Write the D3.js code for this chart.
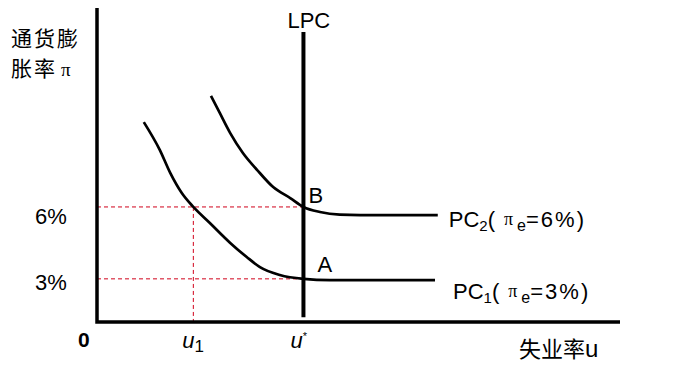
<!DOCTYPE html>
<html>
<head>
<meta charset="utf-8">
<script src="https://cdn.jsdelivr.net/npm/d3@7"></script>
<style>
  html, body { margin: 0; padding: 0; background: #fff; }
  svg { display: block; }
  text { font-family: "Liberation Sans", Arial, sans-serif; fill: #000; }
  .cjk { font-family: "Noto Sans CJK SC", sans-serif; }
</style>
</head>
<body>
<svg id="chart" width="676" height="371"></svg>
<script>
// 数据（横轴：失业率 u，纵轴：通货膨胀率 π，单位 %）
const yTickValues = [6, 3];
const yTickLabels = ['6%', '3%'];
const uNatural = 6;   // u*
const uLow = 4;       // u1
const lpcRange = [1.4, 13.3];

// PC1（预期通胀 3%）
const pc1U  = [3.10, 3.39, 3.58, 3.79, 4.00, 4.30, 4.67, 4.97, 5.21, 5.57, 6.00, 6.48, 8.39];
const pc1Pi = [9.54, 8.38, 7.42, 6.58, 6.00, 5.33, 4.50, 3.91, 3.49, 3.16, 3.00, 2.95, 2.95];
// PC2（预期通胀 6%）
const pc2U  = [4.32, 4.48, 4.67, 4.90, 5.16, 5.45, 5.76, 6.00, 6.30, 6.66, 7.03, 8.44];
const pc2Pi = [10.63, 9.92, 9.08, 8.25, 7.54, 6.83, 6.37, 6.00, 5.79, 5.68, 5.66, 5.66];

const svg = d3.select('#chart');

const x = d3.scaleLinear([2.25, 11.75], [97, 620]);
const y = d3.scaleLinear([1.2, 14.3], [322, 8]);

const line = d3.line()
  .x(d => x(d[0]))
  .y(d => y(d[1]))
  .curve(d3.curveMonotoneX);

// 虚线参考线
const guides = svg.append('g')
  .attr('stroke', '#d0021b')
  .attr('stroke-width', 1)
  .attr('stroke-dasharray', '4,3')
  .attr('fill', 'none');

yTickValues.forEach(v => {
  guides.append('line')
    .attr('x1', x.range()[0]).attr('x2', x(uNatural))
    .attr('y1', y(v)).attr('y2', y(v));
});
guides.append('line')
  .attr('x1', x(uLow)).attr('x2', x(uLow))
  .attr('y1', y(6)).attr('y2', y.range()[0]);

// 菲利普斯曲线
[[pc1U, pc1Pi], [pc2U, pc2Pi]].forEach(([us, ps]) => {
  svg.append('path')
    .datum(us.map((u, i) => [u, ps[i]]))
    .attr('d', line)
    .attr('fill', 'none')
    .attr('stroke', '#000')
    .attr('stroke-width', 2.7)
    .attr('stroke-linejoin', 'round');
});

// LPC 长期菲利普斯曲线
svg.append('line')
  .attr('x1', x(uNatural)).attr('x2', x(uNatural))
  .attr('y1', y(lpcRange[1])).attr('y2', y(lpcRange[0]))
  .attr('stroke', '#000')
  .attr('stroke-width', 4);

// 坐标轴
svg.append('path')
  .attr('d', `M${x.range()[0]},${y.range()[1]}V${y.range()[0]}H${x.range()[1]}`)
  .attr('fill', 'none')
  .attr('stroke', '#000')
  .attr('stroke-width', 3.5);

// 纵轴刻度文字
const tickDy = { 6: 17, 3: 11 };
svg.selectAll('.ytick')
  .data(yTickValues)
  .join('text')
  .attr('class', 'ytick')
  .attr('x', 35)
  .attr('y', d => y(d) + tickDy[d])
  .attr('font-size', 22)
  .text((d, i) => yTickLabels[i]);

svg.append('text')
  .attr('x', 78).attr('y', 347)
  .attr('font-size', 21)
  .attr('font-weight', 'bold')
  .text('0');

// 横轴刻度 u1, u*
const u1 = svg.append('text')
  .attr('x', x(uLow) - 11).attr('y', 348)
  .attr('font-family', '"DejaVu Serif", serif')
  .attr('font-style', 'italic')
  .attr('font-size', 22)
  .text('u');
u1.append('tspan').attr('dy', 4).attr('font-size', 17).attr('font-style', 'normal').text('1');

const us = svg.append('text')
  .attr('x', x(uNatural) - 13).attr('y', 348)
  .attr('font-family', '"DejaVu Serif", serif')
  .attr('font-style', 'italic')
  .attr('font-size', 22)
  .text('u');
us.append('tspan').attr('dy', -8).attr('font-size', 11).attr('font-style', 'normal').text('*');

// 轴标题
const yTitle = svg.append('text')
  .attr('class', 'cjk')
  .attr('font-size', 21)
  .attr('letter-spacing', 2);
yTitle.append('tspan').attr('x', 11).attr('y', 46).text('通货膨');
yTitle.append('tspan').attr('x', 11).attr('y', 76).text('胀率');
yTitle.append('tspan').attr('dx', 4).attr('font-size', 19)
  .attr('font-family', '"Liberation Serif", serif').text('π');

const xTitle = svg.append('text')
  .attr('class', 'cjk')
  .attr('x', 519).attr('y', 357)
  .attr('font-size', 22)
  .text('失业率');
xTitle.append('tspan').attr('font-family', '"Liberation Sans", Arial, sans-serif').attr('font-size', 24).text('u');

// 曲线标签
svg.append('text')
  .attr('x', x(uNatural) - 16).attr('y', 28)
  .attr('font-size', 22)
  .text('LPC');

svg.append('text')
  .attr('x', x(uNatural) + 14).attr('y', y(3) - 7)
  .attr('font-size', 22)
  .text('A');
svg.append('text')
  .attr('x', x(uNatural) + 5).attr('y', y(6) - 4)
  .attr('font-size', 22)
  .text('B');

function pcLabel(idx, expected, xPos, yPos) {
  const t = svg.append('text')
    .attr('x', xPos).attr('y', yPos)
    .attr('font-size', 22)
    .text('PC');
  t.append('tspan').attr('dy', 4).attr('font-size', 15).text(idx);
  t.append('tspan').attr('dy', -4).attr('font-size', 22).text('(');
  t.append('tspan').attr('dx', 9).attr('dy', -2).attr('font-size', 18)
    .attr('font-family', '"Liberation Serif", serif').text('π');
  t.append('tspan').attr('dx', 4).attr('dy', 6).attr('font-size', 16).text('e');
  t.append('tspan').attr('dy', -4).attr('font-size', 22).attr('letter-spacing', 2).text(`=${expected}%)`);
}
pcLabel('2', 6, x(pc2U[pc2U.length - 1]) + 11, y(pc2Pi[pc2Pi.length - 1]) + 12);
pcLabel('1', 3, x(pc1U[pc1U.length - 1]) + 18, y(pc1Pi[pc1Pi.length - 1]) + 19);
</script>
</body>
</html>
